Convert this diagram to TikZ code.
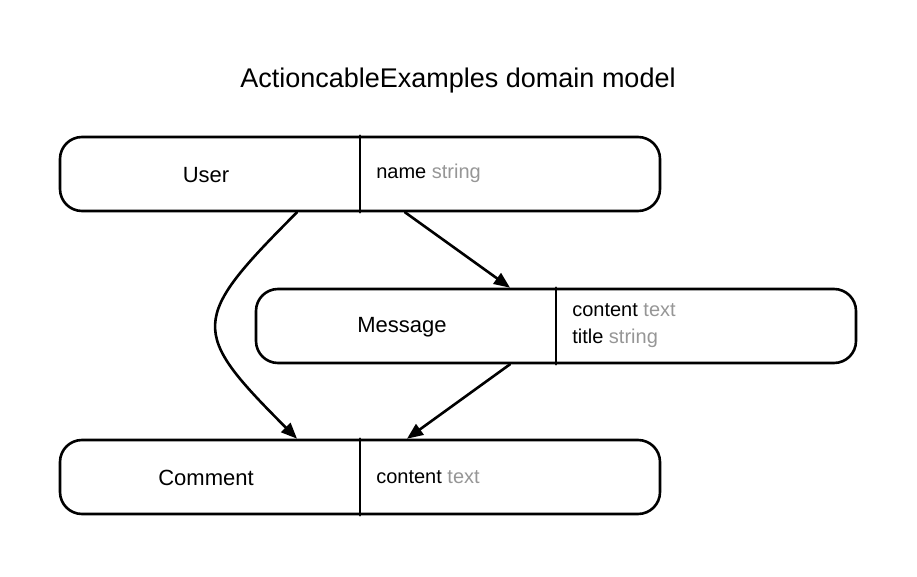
\documentclass[tikz,border=0pt]{standalone}
\usepackage{fontspec}
\setmainfont{Liberation Sans}
\usetikzlibrary{arrows.meta,positioning}
\definecolor{typegray}{RGB}{150,150,150}
\newcommand\fld[2]{#1 \textcolor{typegray}{#2}}
\begin{document}
\begin{tikzpicture}[x=1pt,y=-1pt,>={Triangle[length=16pt,width=13pt]}, line width=2.6pt, line join=round, line cap=round,
	entity/.style={draw, rounded corners=22pt, minimum width=600pt, minimum height=74pt, inner sep=0pt},
	ename/.style={font=\fontsize{22}{26}\selectfont, inner sep=0pt},
	attr/.style={anchor=west, align=left, inner sep=0pt, font=\fontsize{20}{27}\selectfont}]
	\useasboundingbox (0,0) rectangle (917,577);
	\node[font=\fontsize{27}{32}\selectfont] (title) at (458,81) {ActioncableExamples domain model};
	% entities
	\node[entity] (user) at (360,174) {};
	\node[entity] (message) at (556,326) {};
	\node[entity] (comment) at (360,477) {};
	\foreach \e in {user,message,comment} \draw (\e.north) -- (\e.south);
	\node[ename] (userL) at ([xshift=-154,yshift=-1]user.center) {User};
	\node[ename] (messageL) at ([xshift=-154,yshift=-1]message.center) {Message};
	\node[ename] (commentL) at ([xshift=-154,yshift=-1]comment.center) {Comment};
	\node[attr] (userA) at ([xshift=15,yshift=1]user.center) {\fld{name}{string}};
	\node[attr] (messageA) at ([xshift=15]message.center) {\fld{content}{text}\\\fld{title}{string}};
	\node[attr] (commentA) at ([xshift=15]comment.center) {\fld{content}{text}};
	% associations
	\draw[->] ([xshift=45]user.south) -- ([xshift=-46]message.north);
	\draw[->] ([xshift=-63]user.south) to[out=-135,in=135,looseness=1.72] ([xshift=-63]comment.north);
	\draw[->] ([xshift=-46]message.south) -- ([xshift=47]comment.north);
\end{tikzpicture}
\end{document}
